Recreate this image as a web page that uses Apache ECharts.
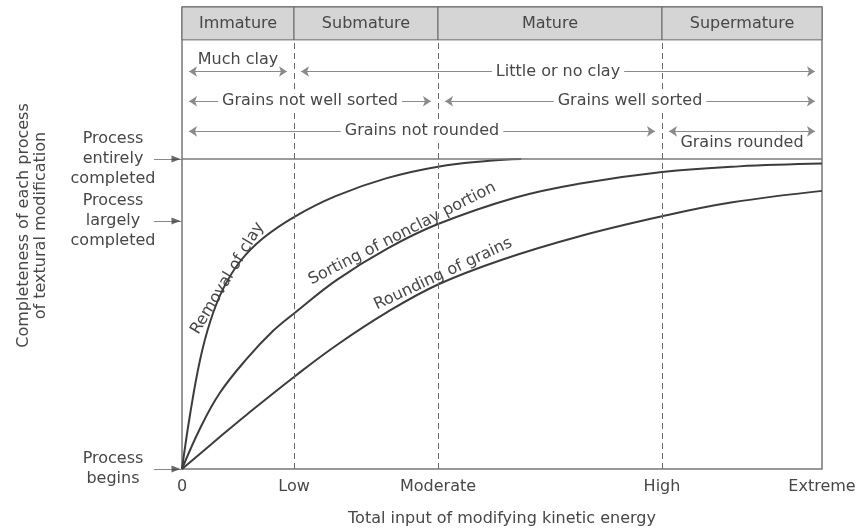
<!DOCTYPE html>
<html>
<head>
<meta charset="utf-8">
<title>Textural maturity</title>
<script src="https://cdn.jsdelivr.net/npm/echarts@6.0.0/dist/echarts.min.js"></script>
<style>
  html, body { margin: 0; padding: 0; background: #fff; }
  #chart { width: 860px; height: 532px; }
</style>
</head>
<body>
<div id="chart"></div>
<script>
// energy axis runs 0 .. 100 (Extreme), completeness 0 (begins) .. 100 (entirely completed)
var energyTicks = [0, 17.5, 40, 75, 100];
var energyLabels = ['0', 'Low', 'Moderate', 'High', 'Extreme'];
var stages = ['Immature', 'Submature', 'Mature', 'Supermature'];
var completeTicks = [0, 80, 100];
var completeLabels = ['Process\nbegins', 'Process\nlargely\ncompleted', 'Process\nentirely\ncompleted'];

// [text, from, to] along the energy axis
var clayRows = [['Much clay', 0, 17.5], ['Little or no clay', 17.5, 100]];
var sortRows = [['Grains not well sorted', 0, 40], ['Grains well sorted', 40, 100]];
var roundRows = [['Grains not rounded', 0, 75], ['Grains rounded', 75, 100]];

// curves, [energy, completeness]
var removalOfClay = [[0, 0], [1.25, 17.5], [2.8, 35], [4.4, 47.5], [6.4, 58], [9.1, 67], [12.7, 74.5],
  [17.7, 81.5], [24, 88], [32, 93.8], [40, 97.5], [48, 99.4], [53, 100]];
var sortingNonclay = [[0, 0], [2.8, 13], [5.9, 24.5], [10.1, 35.5], [14.2, 44.5], [17.7, 50.5], [24.2, 61],
  [32, 71], [40, 79], [52, 87.5], [62, 92], [75, 95.8], [87, 97.6], [100, 98.5]];
var roundingGrains = [[0, 0], [5.9, 10.3], [10.1, 17.5], [17.7, 30], [24.2, 40], [32, 50.5], [40, 59.5],
  [50, 67.5], [62, 75], [75, 81.5], [86, 86], [100, 89.7]];

var chart = echarts.init(document.getElementById('chart'));

var FONT = '"DejaVu Sans", Arial, sans-serif';
var TXT = '#474747';
var Y_MAX = 149;        // top of the frame
var HEAD_BOTTOM = 138.4; // bottom of the stage header
var GAP = 1.1;          // keep arrow tips off the dividers

function rowLines(rows, y, positions) {
  return rows.map(function (r, i) {
    return [
      {
        coord: [r[1] + GAP, y], name: r[0],
        label: {
          show: true, position: positions[i], formatter: '{b}',
          color: TXT, fontSize: 16, fontFamily: FONT,
          backgroundColor: positions[i] === 'insideMiddle' ? '#fff' : 'transparent',
          padding: [0, 4], distance: 4
        }
      },
      { coord: [r[2] - GAP, y] }
    ];
  });
}

var lineData = [];
// dashed dividers
energyTicks.slice(1, 4).forEach(function (x) {
  lineData.push([
    { coord: [x, 0], symbol: 'none', lineStyle: { type: [6, 4], color: '#6a6a6a', width: 1 } },
    { coord: [x, HEAD_BOTTOM], symbol: 'none' }
  ]);
});
// process entirely completed
lineData.push([
  { coord: [0, 100], symbol: 'none', lineStyle: { type: 'solid', color: '#7a7a7a', width: 1.5 } },
  { coord: [100, 100], symbol: 'none' }
]);
lineData = lineData
  .concat(rowLines(clayRows, 128.2, ['insideMiddleTop', 'insideMiddle']))
  .concat(rowLines(sortRows, 118.6, ['insideMiddle', 'insideMiddle']))
  .concat(rowLines(roundRows, 108.9, ['insideMiddle', 'insideMiddleBottom']));

var headerData = stages.map(function (s, i) {
  return [
    { name: s, coord: [energyTicks[i], HEAD_BOTTOM] },
    { coord: [energyTicks[i + 1], Y_MAX] }
  ];
});

var curveStyle = { color: '#3c3c3c', width: 2 };

var option = {
  animation: false,
  backgroundColor: '#fff',
  textStyle: { fontFamily: FONT },
  grid: {
    left: 182, right: 38, top: 7, bottom: 60,
    show: true, borderColor: '#777', borderWidth: 1.5
  },
  xAxis: {
    type: 'value', min: 0, max: 100,
    name: 'Total input of modifying kinetic energy',
    nameLocation: 'middle', nameGap: 42,
    nameTextStyle: { color: TXT, fontSize: 16, fontFamily: FONT },
    axisLine: { show: false },
    axisTick: { show: false },
    splitLine: { show: false },
    axisLabel: {
      customValues: energyTicks,
      formatter: function (v) { return energyLabels[energyTicks.indexOf(v)]; },
      color: TXT, fontSize: 16, fontFamily: FONT, margin: 10
    }
  },
  yAxis: {
    type: 'value', min: 0, max: Y_MAX,
    name: 'Completeness of each process\nof textural modification',
    nameLocation: 'middle', nameGap: 133, nameRotate: 90,
    nameTextStyle: { color: TXT, fontSize: 16, fontFamily: FONT, lineHeight: 17, align: 'center', padding: [0, 0, 0, 25] },
    axisLine: { show: false },
    splitLine: { show: false },
    axisTick: { show: true, customValues: completeTicks, length: 28, lineStyle: { color: '#888', width: 1 } },
    axisLabel: {
      customValues: completeTicks,
      formatter: function (v) { return completeLabels[completeTicks.indexOf(v)]; },
      color: TXT, fontSize: 16, fontFamily: FONT, lineHeight: 20,
      align: 'center', margin: 69
    }
  },
  series: [
    {
      name: 'Removal of clay', type: 'line', data: removalOfClay,
      smooth: 0.4, showSymbol: false, silent: true,
      lineStyle: curveStyle, z: 4,
      markArea: {
        silent: true,
        itemStyle: { color: '#d5d5d5', borderColor: '#666', borderWidth: 1 },
        label: { show: true, position: 'inside', color: TXT, fontSize: 16, fontFamily: FONT },
        data: headerData
      },
      markLine: {
        silent: true,
        symbol: ['arrow', 'arrow'], symbolSize: 8,
        lineStyle: { type: 'solid', color: '#8a8a8a', width: 1 },
        label: { show: false },
        data: lineData
      }
    },
    {
      name: 'Sorting of nonclay portion', type: 'line', data: sortingNonclay,
      smooth: 0.4, showSymbol: false, silent: true,
      lineStyle: curveStyle, z: 4
    },
    {
      name: 'Rounding of grains', type: 'line', data: roundingGrains,
      smooth: 0.4, showSymbol: false, silent: true,
      lineStyle: curveStyle, z: 4
    },
    {
      // arrow heads pointing at the completeness levels
      name: 'levels', type: 'scatter', clip: false, silent: true,
      data: completeTicks.map(function (v) { return [0, v]; }),
      symbol: 'triangle', symbolSize: [7, 9], symbolRotate: -90, symbolOffset: [-6, 0],
      itemStyle: { color: '#444' }, z: 5
    }
  ]
};

chart.setOption(option);

// curve names written along the curves
var curveLabels = [
  ['Removal of clay', 7.1, 61.5, 59],
  ['Sorting of nonclay portion', 34.4, 75.9, 27],
  ['Rounding of grains', 40.8, 62.9, 25]
];
chart.setOption({
  graphic: curveLabels.map(function (c) {
    var p = chart.convertToPixel({ gridIndex: 0 }, [c[1], c[2]]);
    return {
      type: 'text', x: p[0], y: p[1], rotation: c[3] * Math.PI / 180, silent: true,
      style: {
        text: c[0], fill: TXT, font: '16px ' + FONT,
        align: 'center', verticalAlign: 'middle', textAlign: 'center', textVerticalAlign: 'middle'
      }
    };
  })
});
</script>
</body>
</html>
